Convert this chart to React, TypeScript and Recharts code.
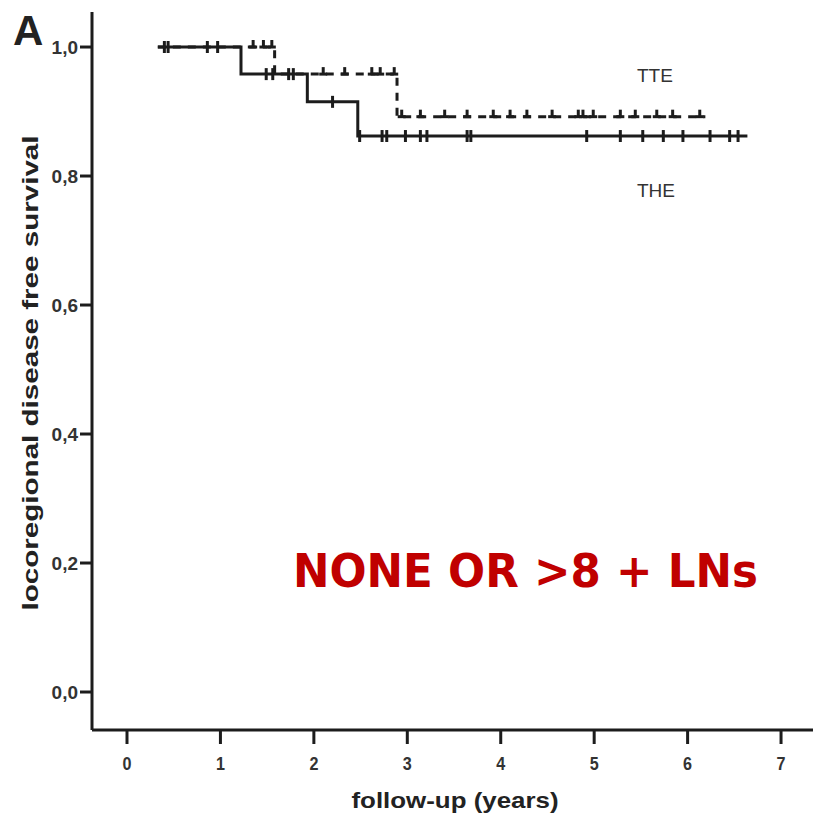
import React from "react";
import {
  ComposedChart,
  Line,
  Scatter,
  XAxis,
  YAxis,
} from "recharts";

// step curves (time in years, survival)
const theTimes = [0.33, 1.22, 1.93, 2.47, 6.64];
const theSurv = [1.0, 0.958, 0.915, 0.862, 0.862];
const tteTimes = [0.33, 1.58, 2.89, 6.19];
const tteSurv = [1.0, 0.958, 0.892, 0.892];

// censored observations
const theCensorTimes = [
  0.4, 0.44, 0.86, 0.97,
  1.49, 1.56, 1.73, 1.78,
  2.2,
  2.49, 2.73, 2.78, 2.98, 3.14, 3.21, 3.64, 3.68, 4.92, 5.28, 5.52, 5.74, 5.95, 6.24, 6.45, 6.54,
];
const theCensorSurv = [
  1.0, 1.0, 1.0, 1.0,
  0.958, 0.958, 0.958, 0.958,
  0.915,
  0.862, 0.862, 0.862, 0.862, 0.862, 0.862, 0.862, 0.862, 0.862, 0.862, 0.862, 0.862, 0.862, 0.862, 0.862, 0.862,
];
const tteCensorTimes = [
  1.35, 1.46, 1.55,
  2.1, 2.33, 2.62, 2.71, 2.86,
  2.94, 3.14, 3.4, 3.64, 3.92, 4.1, 4.28, 4.55, 4.83, 4.88, 4.99, 5.28, 5.44, 5.67, 5.84, 6.13,
];
const tteCensorSurv = [
  1.0, 1.0, 1.0,
  0.958, 0.958, 0.958, 0.958, 0.958,
  0.892, 0.892, 0.892, 0.892, 0.892, 0.892, 0.892, 0.892, 0.892, 0.892, 0.892, 0.892, 0.892, 0.892, 0.892, 0.892,
];

const xTicks = [0, 1, 2, 3, 4, 5, 6, 7];
const yTicks = [0, 0.2, 0.4, 0.6, 0.8, 1.0];

const zip = (ts: number[], ss: number[]) => ts.map((t, i) => ({ t, s: ss[i] }));
const theCurve = zip(theTimes, theSurv);
const tteCurve = zip(tteTimes, tteSurv);
const theCensor = zip(theCensorTimes, theCensorSurv);
const tteCensor = zip(tteCensorTimes, tteCensorSurv);

const INK = "#1c1c1c";
const FONT = "Liberation Sans, Arial, sans-serif";

const TheMark = (p: any) => (
  <line x1={p.cx} x2={p.cx} y1={p.cy - 6} y2={p.cy + 6} stroke={INK} strokeWidth={3} />
);
const TteMark = (p: any) => (
  <g>
    <line x1={p.cx - 4} x2={p.cx + 4} y1={p.cy} y2={p.cy} stroke={INK} strokeWidth={3} />
    <line x1={p.cx} x2={p.cx} y1={p.cy - 7} y2={p.cy} stroke={INK} strokeWidth={3} />
  </g>
);

// custom tick text so size/weight are under control
const XTick = (p: any) => (
  <text x={p.x} y={p.y} dy={14} textAnchor="middle" fontSize={19} fontWeight={700} fill="#333" fontFamily={FONT}
    transform={`translate(${p.x} 0) scale(0.85 1) translate(${-p.x} 0)`}>
    {p.payload.value}
  </text>
);
const YTick = (p: any) => (
  <text x={p.x} y={p.y} dy={7} textAnchor="end" fontSize={19} fontWeight={700} fill="#333" fontFamily={FONT}>
    {Number(p.payload.value).toFixed(1).replace(".", ",")}
  </text>
);

export default function App() {
  return (
    <div style={{ position: "absolute", left: 0, top: 0, width: 813, height: 817, overflow: "hidden", background: "#fff" }}>
      <ComposedChart width={830} height={817} margin={{ top: 12, right: 0, bottom: 0, left: 0 }}>
        <XAxis
          dataKey="t"
          type="number"
          domain={[-0.3746, 7.524]}
          ticks={xTicks}
          allowDataOverflow
          height={87}
          axisLine={{ stroke: INK, strokeWidth: 3 }}
          tickLine={{ stroke: INK, strokeWidth: 3 }}
          tickSize={14}
          tickMargin={12}
          tick={<XTick />}
        />
        <XAxis
          xAxisId="top"
          orientation="top"
          type="number"
          domain={[-0.3746, 7.524]}
          height={0}
          tick={false}
          tickLine={false}
          axisLine={{ stroke: "#444", strokeWidth: 2 }}
        />
        <YAxis
          dataKey="s"
          type="number"
          domain={[-0.0589, 1.0543]}
          ticks={yTicks}
          allowDataOverflow
          width={92}
          axisLine={{ stroke: INK, strokeWidth: 3 }}
          tickLine={{ stroke: INK, strokeWidth: 3 }}
          tickSize={12}
          tickMargin={2}
          tick={<YTick />}
        />
        <Line
          data={tteCurve}
          dataKey="s"
          type="stepAfter"
          stroke={INK}
          strokeWidth={3}
          strokeDasharray="8 7"
          dot={false}
          activeDot={false}
          isAnimationActive={false}
        />
        <Line
          data={theCurve}
          dataKey="s"
          type="stepAfter"
          stroke={INK}
          strokeWidth={3}
          dot={false}
          activeDot={false}
          isAnimationActive={false}
        />
        <Scatter data={theCensor} dataKey="s" shape={TheMark} isAnimationActive={false} />
        <Scatter data={tteCensor} dataKey="s" shape={TteMark} isAnimationActive={false} />
      </ComposedChart>
      <svg width={813} height={817} style={{ position: "absolute", left: 0, top: 0, pointerEvents: "none" }}>
        <text x={13} y={45} fontSize={42} fontWeight={700} fill="#222" fontFamily={FONT}>A</text>
        <text x={637} y={82} fontSize={19} fill="#333" fontFamily={FONT}>TTE</text>
        <text x={637} y={197} fontSize={19} fill="#333" fontFamily={FONT}>THE</text>
        <text
          x={293}
          y={587}
          fontSize={46}
          fontWeight={700}
          fill="#c00000"
          fontFamily="DejaVu Sans, Verdana, sans-serif"
          textLength={465}
          lengthAdjust="spacingAndGlyphs"
        >
          NONE OR &gt;8 + LNs
        </text>
        <text
          x={455}
          y={808}
          textAnchor="middle"
          fontSize={22}
          fontWeight={700}
          fill="#222"
          fontFamily={FONT}
          textLength={207}
          lengthAdjust="spacingAndGlyphs"
        >
          follow-up (years)
        </text>
        <text
          transform="translate(38,373) rotate(-90)"
          textAnchor="middle"
          fontSize={22}
          fontWeight={700}
          fill="#222"
          fontFamily={FONT}
          textLength={475}
          lengthAdjust="spacingAndGlyphs"
        >
          locoregional disease free survival
        </text>
      </svg>
    </div>
  );
}
